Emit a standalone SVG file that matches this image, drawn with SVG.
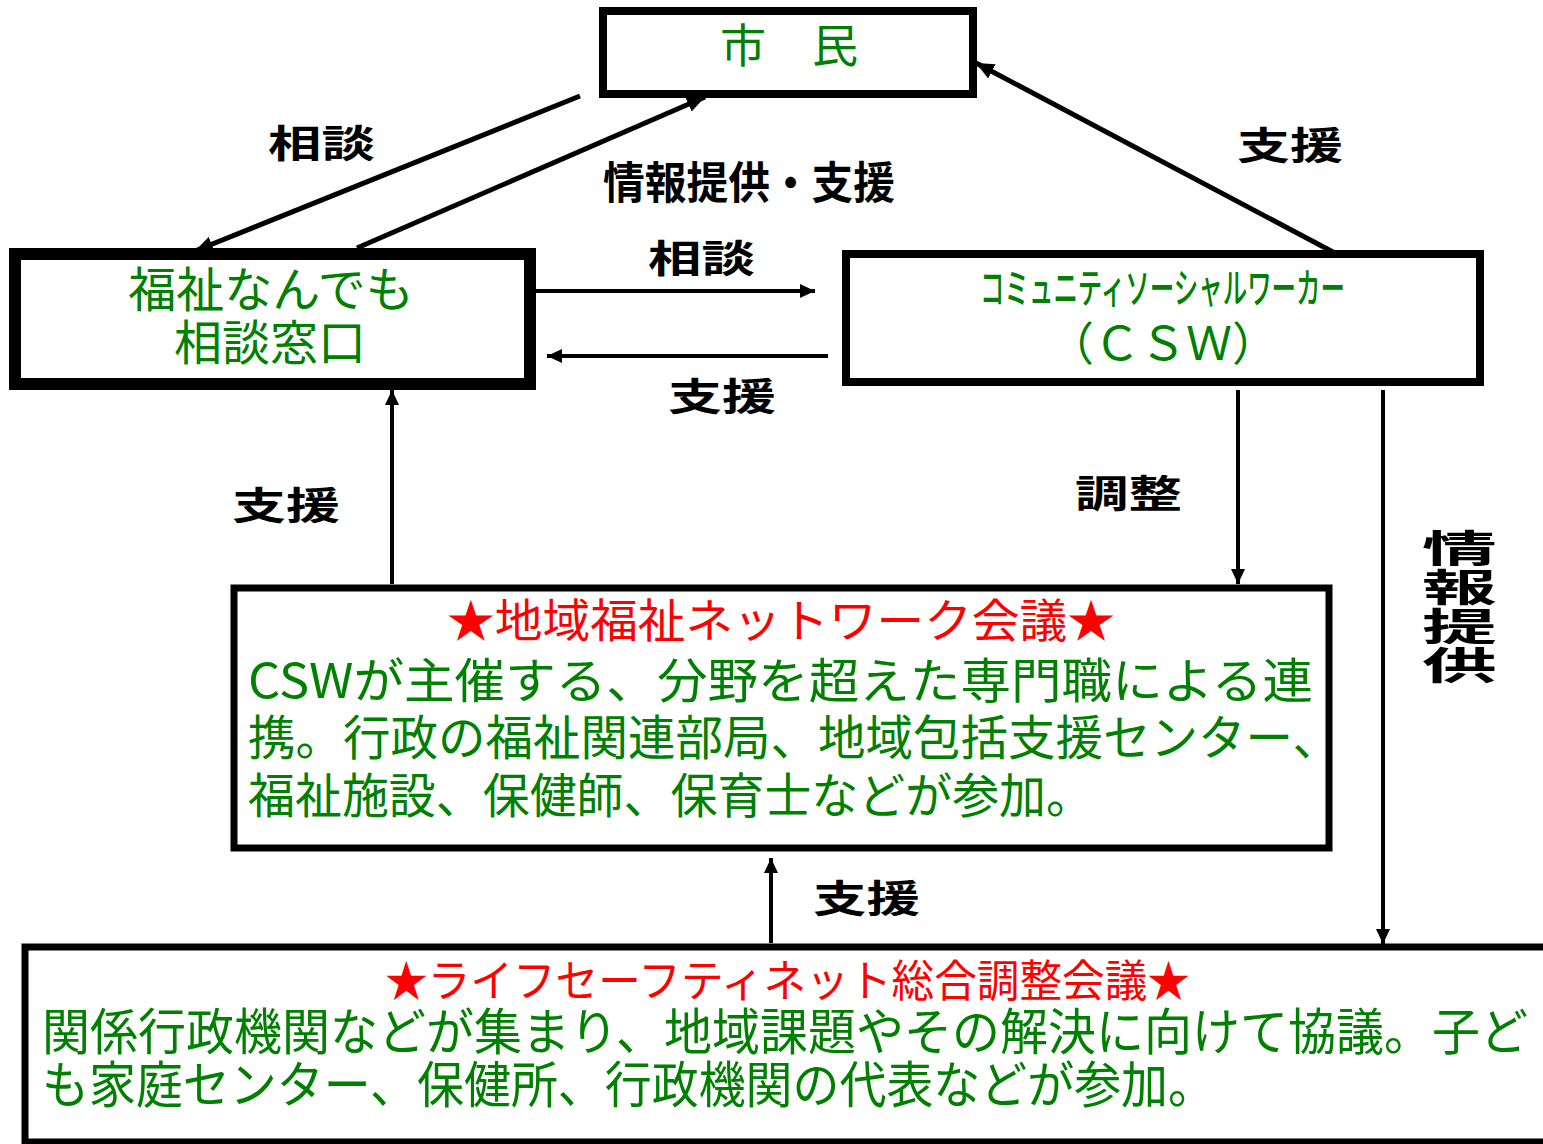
<svg xmlns="http://www.w3.org/2000/svg" width="1543" height="1144" viewBox="0 0 1543 1144">
<style>
.box{fill:#fff;stroke:#000}
.g{fill:#008000;font-family:"Noto Sans CJK JP","Noto Sans",sans-serif}
.r{fill:#ff0000;font-family:"Noto Sans CJK JP","Noto Sans",sans-serif}
.lb{fill:#000;font-family:"Noto Sans CJK JP","Noto Sans",sans-serif;font-weight:bold}
.ln{fill:none;stroke:#000}
</style>
<defs>
<marker id="ah" markerUnits="userSpaceOnUse" markerWidth="20" markerHeight="16" refX="18" refY="8" orient="auto">
<path d="M0,0 L18,8 L0,16 z" fill="#000"/>
</marker>
<marker id="ahs" markerUnits="userSpaceOnUse" markerWidth="16" markerHeight="14" refX="15" refY="7" orient="auto">
<path d="M0,0 L15,7 L0,14 z" fill="#000"/>
</marker>
</defs>
<rect width="1543" height="1144" fill="#fff"/>

<g id="connectors">
<line class="ln" stroke-width="5" x1="580" y1="96" x2="195" y2="251" marker-end="url(#ah)"/>
<line class="ln" stroke-width="5" x1="357" y1="248" x2="705" y2="97" marker-end="url(#ah)"/>
<line class="ln" stroke-width="5" x1="1333" y1="252" x2="976" y2="63" marker-end="url(#ah)"/>
<line class="ln" stroke-width="4" x1="536" y1="291" x2="815" y2="291" marker-end="url(#ahs)"/>
<line class="ln" stroke-width="4" x1="828" y1="356" x2="547" y2="356" marker-end="url(#ahs)"/>
<line class="ln" stroke-width="4" x1="392" y1="584" x2="392" y2="390" marker-end="url(#ahs)"/>
<line class="ln" stroke-width="4" x1="1238" y1="390" x2="1238" y2="584" marker-end="url(#ahs)"/>
<line class="ln" stroke-width="4" x1="1383" y1="390" x2="1383" y2="944" marker-end="url(#ahs)"/>
<line class="ln" stroke-width="4" x1="771" y1="943" x2="771" y2="858" marker-end="url(#ahs)"/>
<text class="lb" x="268" y="157" font-size="38" textLength="107" lengthAdjust="spacingAndGlyphs">相談</text>
<text class="lb" x="603" y="199" font-size="44" textLength="292" lengthAdjust="spacingAndGlyphs">情報提供・支援</text>
<text class="lb" x="1237" y="159" font-size="38" textLength="106" lengthAdjust="spacingAndGlyphs">支援</text>
<text class="lb" x="648" y="272" font-size="38" textLength="107" lengthAdjust="spacingAndGlyphs">相談</text>
<text class="lb" x="668" y="410" font-size="38" textLength="108" lengthAdjust="spacingAndGlyphs">支援</text>
<text class="lb" x="232" y="519" font-size="38" textLength="108" lengthAdjust="spacingAndGlyphs">支援</text>
<text class="lb" x="1075" y="507" font-size="38" textLength="107" lengthAdjust="spacingAndGlyphs">調整</text>
<text class="lb" x="813" y="912" font-size="38" textLength="107" lengthAdjust="spacingAndGlyphs">支援</text>
<g transform="translate(1422,0) scale(1.97,1)">
<text class="lb" font-size="38" writing-mode="vertical-rl" letter-spacing="1" x="19" y="529">情報提供</text>
</g>
</g>

<g id="shimin">
<rect class="box" x="603" y="11" width="370" height="83" stroke-width="8"/>
<text class="g" x="789" y="62" font-size="46" text-anchor="middle">市　民</text>
</g>

<g id="madoguchi">
<rect class="box" x="15" y="254" width="515" height="130" stroke-width="12"/>
<text class="g" x="271" y="307" font-size="48" text-anchor="middle">福祉なんでも</text>
<text class="g" x="270" y="360" font-size="48" text-anchor="middle">相談窓口</text>
</g>

<g id="csw">
<rect class="box" x="846" y="254" width="634" height="128" stroke-width="8"/>
<text class="g" transform="translate(980,303) scale(1,1.72)" font-size="24" font-weight="500" textLength="365" lengthAdjust="spacingAndGlyphs">コミュニティソーシャルワーカー</text>
<text class="g" x="1163" y="360" font-size="46" text-anchor="middle">（ＣＳＷ）</text>
</g>

<g id="network">
<rect class="box" x="234" y="588" width="1095" height="260" stroke-width="7"/>
<text class="r" x="447" y="637" font-size="46" textLength="668" lengthAdjust="spacingAndGlyphs">★地域福祉ネットワーク会議★</text>
<text class="g" x="248" y="698" font-size="48" textLength="1065" lengthAdjust="spacingAndGlyphs">CSWが主催する、分野を超えた専門職による連</text>
<text class="g" x="248" y="755" font-size="48" textLength="1092" lengthAdjust="spacingAndGlyphs">携。行政の福祉関連部局、地域包括支援センター、</text>
<text class="g" x="248" y="813" font-size="48" textLength="845" lengthAdjust="spacingAndGlyphs">福祉施設、保健師、保育士などが参加。</text>
</g>

<g id="lifesafety">
<rect class="box" x="25" y="947" width="1530" height="195" stroke-width="7"/>
<text class="r" x="385" y="997" font-size="44" textLength="805" lengthAdjust="spacingAndGlyphs">★ライフセーフティネット総合調整会議★</text>
<text class="g" transform="translate(42,1050) scale(1,1.07)" font-size="46.5" textLength="1486" lengthAdjust="spacingAndGlyphs">関係行政機関などが集まり、地域課題やその解決に向けて協議。子ど</text>
<text class="g" x="42" y="1103" font-size="50" textLength="1173" lengthAdjust="spacingAndGlyphs">も家庭センター、保健所、行政機関の代表などが参加。</text>
</g>
</svg>
